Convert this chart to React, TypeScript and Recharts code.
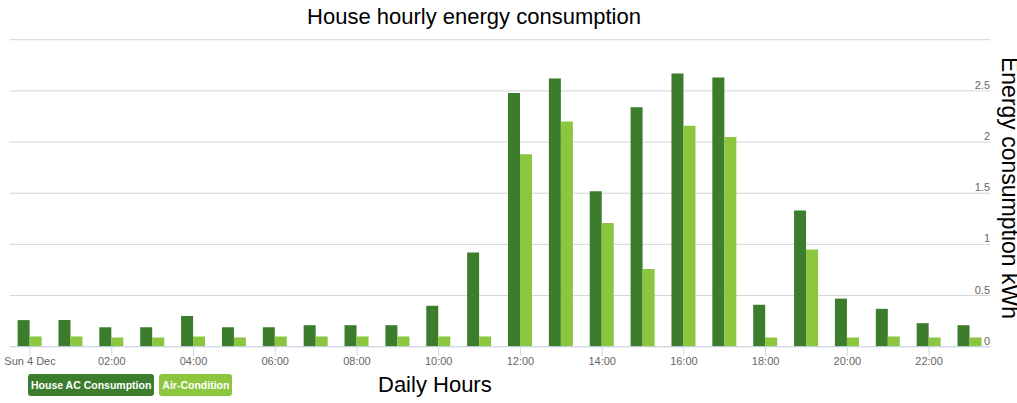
import React from 'react';
import { BarChart, Bar, XAxis, YAxis, CartesianGrid, Legend } from 'recharts';

const hours = [
  '00:00', '01:00', '02:00', '03:00', '04:00', '05:00', '06:00', '07:00',
  '08:00', '09:00', '10:00', '11:00', '12:00', '13:00', '14:00', '15:00',
  '16:00', '17:00', '18:00', '19:00', '20:00', '21:00', '22:00', '23:00',
];
const xTickLabels = [
  'Sun 4 Dec', '', '02:00', '', '04:00', '', '06:00', '', '08:00', '', '10:00', '',
  '12:00', '', '14:00', '', '16:00', '', '18:00', '', '20:00', '', '22:00', '',
];
const houseAC = [
  0.26, 0.26, 0.19, 0.19, 0.30, 0.19, 0.19, 0.21, 0.21, 0.21, 0.40, 0.92,
  2.48, 2.62, 1.52, 2.34, 2.67, 2.63, 0.41, 1.33, 0.47, 0.37, 0.23, 0.21,
];
const airCondition = [
  0.10, 0.10, 0.09, 0.09, 0.10, 0.09, 0.10, 0.10, 0.10, 0.10, 0.10, 0.10,
  1.88, 2.20, 1.21, 0.76, 2.16, 2.05, 0.09, 0.95, 0.09, 0.10, 0.09, 0.09,
];
const seriesNames = ['House AC Consumption', 'Air-Condition'];
const yTicks = [0, 0.5, 1, 1.5, 2, 2.5, 3];

const data = hours.map((hour, i) => ({
  hour,
  house: houseAC[i],
  air: airCondition[i],
}));

const FONT = '"Liberation Sans", Arial, Helvetica, sans-serif';
const DARK = '#3b7d2c';
const LIGHT = '#8cc63f';

const renderXTick = (props: any) => {
  const { x, y, payload } = props;
  const i = hours.indexOf(payload.value);
  const label = xTickLabels[i];
  if (!label) return <g />;
  return (
    <g>
      <line x1={x} x2={x} y1={y} y2={y + 9} stroke="#ccd6eb" strokeWidth={1} />
      <text x={x} y={y + 18} textAnchor="middle" fontSize={11} fill="#666" fontFamily={FONT}>
        {label}
      </text>
    </g>
  );
};

const renderYTick = (props: any) => {
  const { y, payload } = props;
  if (payload.value === 3) return <g />;
  return (
    <text x={990} y={y - 2} textAnchor="end" fontSize={11} fill="#666" fontFamily={FONT}>
      {String(payload.value)}
    </text>
  );
};

// custom legend: coloured buttons in series order
const renderLegend = (props: any) => {
  const items = props.payload || [];
  const ordered = seriesNames
    .map((n) => items.find((it: any) => it.value === n))
    .filter(Boolean);
  return (
    <div style={{ display: 'flex', gap: 5 }}>
      {ordered.map((it: any) => (
        <div
          key={it.value}
          style={{
            background: it.color,
            color: '#fff',
            fontFamily: FONT,
            fontWeight: 'bold',
            fontSize: 10.5,
            padding: '0 3px',
            height: 22,
            lineHeight: '22px',
            borderRadius: 3,
            whiteSpace: 'nowrap',
          }}
        >
          {it.value}
        </div>
      ))}
    </div>
  );
};

export default function App() {
  return (
    <div style={{ position: 'absolute', left: 0, top: 0, width: 1017, height: 403, background: '#fff', fontFamily: FONT, overflow: 'hidden' }}>
      <div style={{ position: 'absolute', left: 0, width: 948, top: 4, textAlign: 'center', fontSize: 22, color: '#000' }}>
        House hourly energy consumption
      </div>
      <BarChart
        width={1017}
        height={403}
        data={data}
        margin={{ top: 39.7, right: 25.6, bottom: 55.3, left: 9.6 }}
        barGap={0}
        barSize={12}
      >
        <CartesianGrid vertical={false} stroke="#d6d6d6" />
        <XAxis
          dataKey="hour"
          height={1}
          interval={0}
          tickSize={0}
          tickMargin={0}
          tick={renderXTick}
          axisLine={{ stroke: '#ccd6eb' }}
          tickLine={false}
        />
        <YAxis
          orientation="right"
          width={1}
          domain={[0, 3]}
          ticks={yTicks}
          interval={0}
          tick={renderYTick}
          axisLine={false}
          tickLine={false}
        />
        <Legend
          layout="horizontal"
          verticalAlign="middle"
          align="center"
          content={renderLegend}
          wrapperStyle={{ position: 'absolute', left: 28, top: 374, width: 'auto', bottom: 'auto' }}
        />
        <Bar dataKey="house" name={seriesNames[0]} fill={DARK} isAnimationActive={false} />
        <Bar dataKey="air" name={seriesNames[1]} fill={LIGHT} isAnimationActive={false} />
      </BarChart>
      <div style={{ position: 'absolute', left: 378, top: 372, fontSize: 22, color: '#000' }}>Daily Hours</div>
      <div
        style={{
          position: 'absolute',
          left: 1009,
          top: 188,
          fontSize: 23,
          color: '#000',
          whiteSpace: 'nowrap',
          transform: 'translate(-50%, -50%) rotate(90deg)',
        }}
      >
        Energy consumption kWh
      </div>
    </div>
  );
}
